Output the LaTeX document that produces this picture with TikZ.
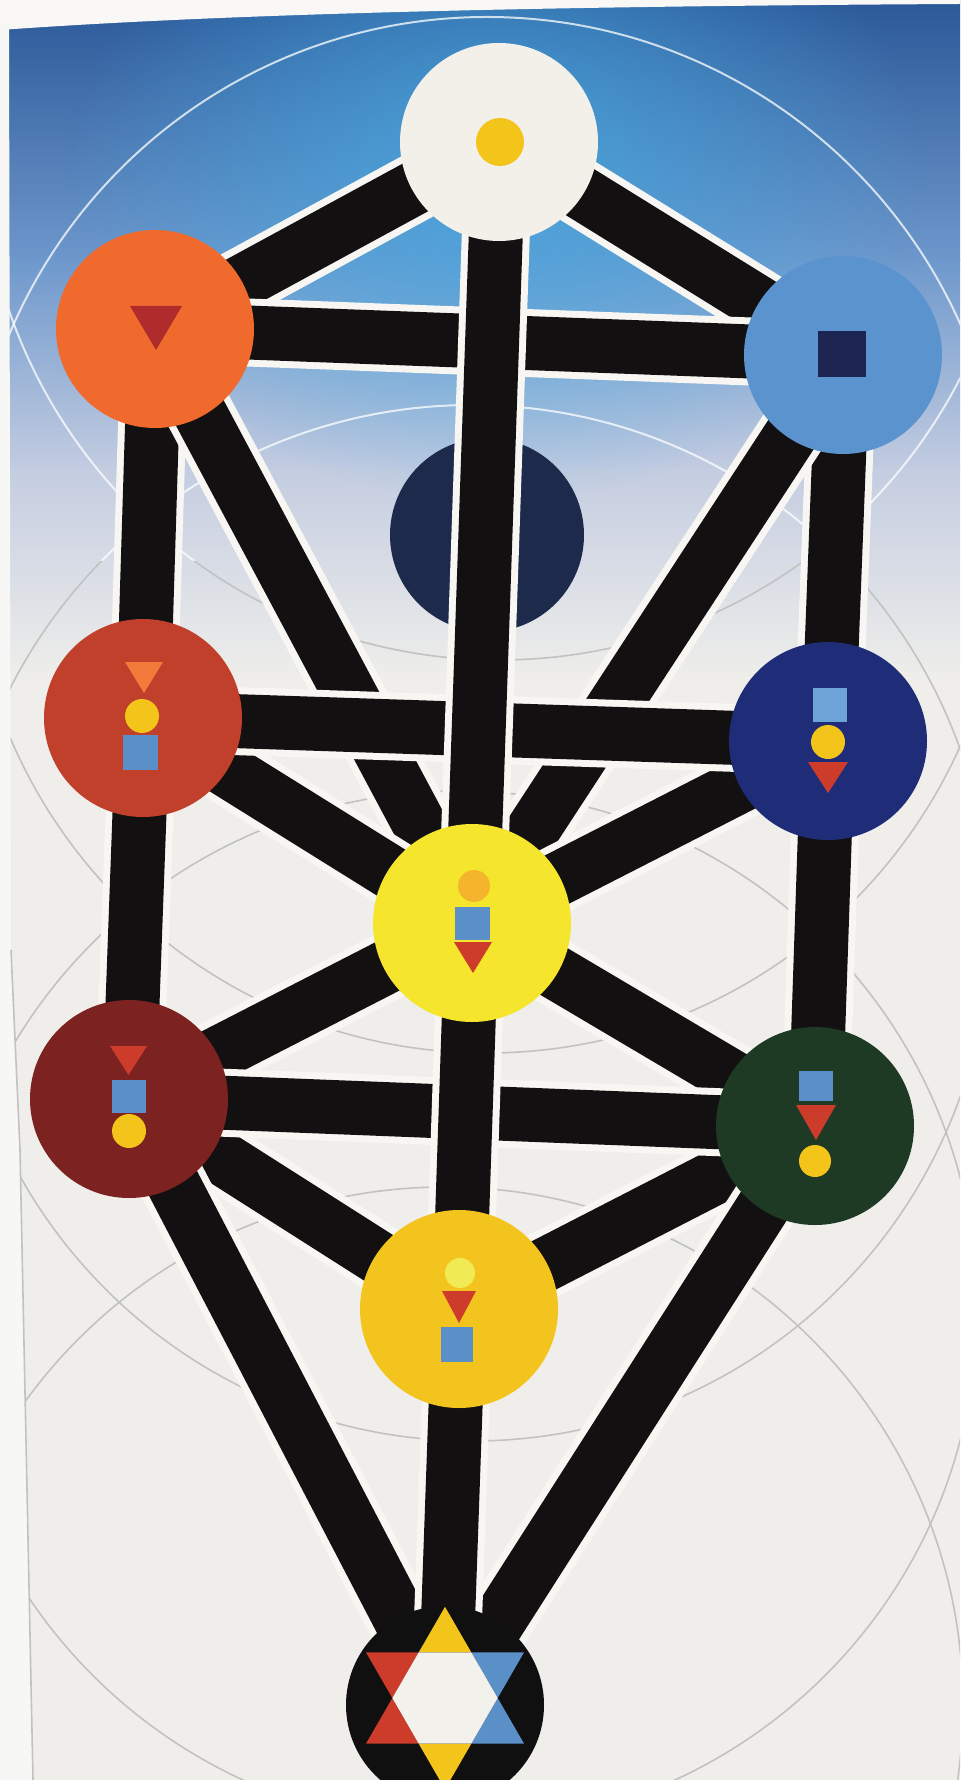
\documentclass[tikz,border=0pt]{standalone}
\usetikzlibrary{fadings}
\definecolor{paper}{HTML}{EFEEEA}
\definecolor{bgA}{HTML}{2B5898}
\definecolor{bgB}{HTML}{6E98CC}
\definecolor{bgC}{HTML}{C4CDE1}
\definecolor{glowc}{HTML}{46A8E0}
\definecolor{barc}{HTML}{121010}
\definecolor{casec}{HTML}{F7F6F3}
\definecolor{ringg}{HTML}{C2C2C2}
\definecolor{ketherc}{HTML}{F2F0E9}
\definecolor{binahc}{HTML}{F06A2E}
\definecolor{chokc}{HTML}{5B93CE}
\definecolor{daathc}{HTML}{1D2A4C}
\definecolor{geburc}{HTML}{C0402C}
\definecolor{chesc}{HTML}{1F2D78}
\definecolor{tiphc}{HTML}{F5E52C}
\definecolor{netzc}{HTML}{1E3A25}
\definecolor{hodc}{HTML}{7C2220}
\definecolor{yesc}{HTML}{F4C41E}
\definecolor{malkc}{HTML}{111010}
\definecolor{symyel}{HTML}{F3C419}
\definecolor{symblue}{HTML}{5A8FC8}
\definecolor{symred}{HTML}{CD3B2A}
\definecolor{symorg}{HTML}{F27A3A}
\definecolor{symdred}{HTML}{B02B2B}
\definecolor{symnavy}{HTML}{1D2553}
\definecolor{symlblue}{HTML}{6EA5D9}
\definecolor{symtorg}{HTML}{F4B52C}
\definecolor{sympale}{HTML}{F0EA55}
\definecolor{starw}{HTML}{F2F1EC}
\tikzfading[name=glowfade, inner color=transparent!15, outer color=transparent!100]
\pgfdeclarelayer{bgl}
\pgfdeclarelayer{lowbars}
\pgfdeclarelayer{midbars}
\pgfdeclarelayer{daathl}
\pgfdeclarelayer{topbars}
\pgfsetlayers{bgl,lowbars,midbars,daathl,topbars,main}
\tikzset{
  sephira/.style={circle, inner sep=0pt, minimum size=99pt, draw=none},
  pathbar/.style={preaction={draw=casec, line width=34pt}, draw=barc, line width=27pt},
  ringgray/.style={draw=ringg, line width=0.8pt},
  ringwhite/.style={draw=white, draw opacity=0.75, line width=1pt},
}
\begin{document}
\begin{tikzpicture}[x=0.5pt,y=-0.5pt]
\useasboundingbox (0,0) rectangle (960,1780);

% ---------- sephiroth ----------
\node[sephira, fill=ketherc] (K) at (499,142) {};
\node[sephira, fill=binahc] (B) at (155,329) {};
\node[sephira, fill=chokc] (C) at (843,355) {};
\begin{pgfonlayer}{daathl}
\node[sephira, minimum size=97pt, fill=daathc] (D) at (487,535) {};
\end{pgfonlayer}
\node[sephira, fill=geburc] (G) at (143,718) {};
\node[sephira, fill=chesc] (Ch) at (828,741) {};
\node[sephira, fill=tiphc] (T) at (472,923) {};
\node[sephira, fill=hodc] (H) at (129,1099) {};
\node[sephira, fill=netzc] (N) at (815,1126) {};
\node[sephira, fill=yesc] (Y) at (459,1309) {};
\node[sephira, fill=malkc] (M) at (445,1705) {};

% ---------- symbols ----------
% Kether
\fill[symyel] (500,142) circle[radius=24];
% Binah
\fill[symdred] (130,306) -- (182,306) -- (156,350) -- cycle;
% Chokmah
\fill[symnavy] (818,331) rectangle (866,377);
% Geburah
\fill[symorg] (125,662) -- (163,662) -- (144,693) -- cycle;
\fill[symyel] (142,716) circle[radius=17];
\fill[symblue] (123,735) rectangle (158,770);
% Chesed
\fill[symlblue] (813,688) rectangle (847,722);
\fill[symyel] (828,742) circle[radius=17];
\fill[symred] (808,762) -- (848,762) -- (828,793) -- cycle;
% Tiphareth
\fill[symtorg] (474,886) circle[radius=16];
\fill[symblue] (455,907) rectangle (490,940);
\fill[symred] (454,942) -- (492,942) -- (473,973) -- cycle;
% Hod
\fill[symred] (110,1046) -- (147,1046) -- (128.5,1075) -- cycle;
\fill[symblue] (112,1080) rectangle (146,1113);
\fill[symyel] (129,1131) circle[radius=17];
% Netzach
\fill[symblue] (799,1071) rectangle (833,1101);
\fill[symred] (796,1105) -- (836,1105) -- (816,1140) -- cycle;
\fill[symyel] (815,1161) circle[radius=16];
% Yesod
\fill[sympale] (460,1273) circle[radius=15];
\fill[symred] (442,1291) -- (476,1291) -- (459,1323) -- cycle;
\fill[symblue] (441,1327) rectangle (473,1362);
% Malkuth hexagram
\fill[symyel] (445,1606.8) -- (418.67,1652.4) -- (471.33,1652.4) -- cycle;
\fill[symred] (366,1652.4) -- (418.67,1652.4) -- (392.33,1698) -- cycle;
\fill[symblue] (524,1652.4) -- (471.33,1652.4) -- (497.67,1698) -- cycle;
\fill[symred] (392.33,1698) -- (366,1743.6) -- (418.67,1743.6) -- cycle;
\fill[symblue] (497.67,1698) -- (524,1743.6) -- (471.33,1743.6) -- cycle;
\fill[symyel] (418.67,1743.6) -- (471.33,1743.6) -- (445,1789.2) -- cycle;
\fill[starw] (418.67,1652.4) -- (471.33,1652.4) -- (497.67,1698) -- (471.33,1743.6) -- (418.67,1743.6) -- (392.33,1698) -- cycle;

% ---------- background ----------
\begin{pgfonlayer}{bgl}
\fill[paper] (0,0) rectangle (960,1780);
\shade[top color=bgA, bottom color=bgB] (0,0) rectangle (960,262);
\shade[top color=bgB, bottom color=bgC] (0,260) rectangle (960,472);
\shade[top color=bgC, bottom color=paper] (0,470) rectangle (960,680);
\fill[glowc, path fading=glowfade] (495,170) ellipse [x radius=430, y radius=330];
\begin{scope}
  \clip (0,560) rectangle (960,1780);
  \foreach \n in {K,D,T,Y,M} \draw[ringgray] (\n.center) circle[radius=518];
\end{scope}
\begin{scope}
  \clip (0,0) rectangle (960,560);
  \foreach \n in {K,D,T,Y,M} \draw[ringwhite] (\n.center) circle[radius=518];
\end{scope}
\fill[white!60!paper] (0,0) -- (960,0) -- (960,4) .. controls (600,6) and (250,12) .. (0,30) -- cycle;
\fill[white!50!paper] (0,25) -- (9,25) -- (11,950) -- (20,1150) -- (33,1780) -- (0,1780) -- cycle;
\draw[ringg, line width=0.8pt] (11,950) -- (20,1150) -- (33,1780);
\end{pgfonlayer}

% ---------- paths ----------
\begin{pgfonlayer}{lowbars}
\foreach \a/\b in {K/B,K/C,B/G,G/H,C/Ch,Ch/N,B/T,C/T,G/T,Ch/T,T/H,T/N,H/Y,N/Y,H/M,N/M}
  \draw[pathbar] (\a.center) -- (\b.center);
\end{pgfonlayer}
\begin{pgfonlayer}{midbars}
\foreach \a/\b in {B/C,G/Ch,H/N}
  \draw[pathbar] (\a.center) -- (\b.center);
\end{pgfonlayer}
\begin{pgfonlayer}{topbars}
\foreach \a/\b in {K/T,T/Y,Y/M}
  \draw[pathbar] (\a.center) -- (\b.center);
\end{pgfonlayer}
\end{tikzpicture}
\end{document}
